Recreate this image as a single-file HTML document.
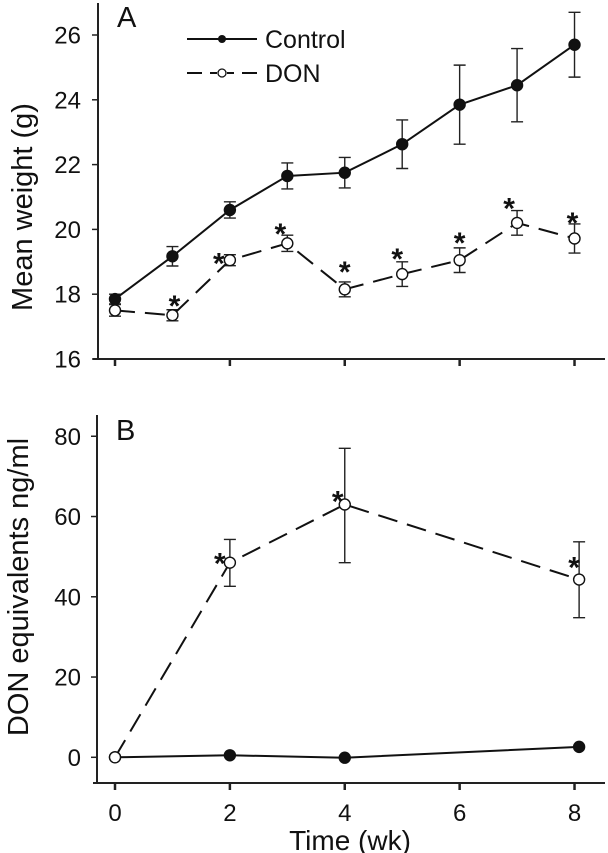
<!DOCTYPE html>
<html><head><meta charset="utf-8">
<style>
html,body{margin:0;padding:0;background:#fff;}
svg{display:block;font-family:"Liberation Sans",Arial,sans-serif;}
</style></head>
<body>
<svg id="chart" width="608" height="853" viewBox="0 0 608 853" xmlns="http://www.w3.org/2000/svg">
<g id="panelA"></g>
<g id="panelB"></g>
</svg>
<script>
// Panel A data
const weeksA = [0,1,2,3,4,5,6,7,8];
const controlWeight = [17.85,19.17,20.6,21.65,21.75,22.63,23.85,24.45,25.7];
const controlWeightErr = [0.15,0.3,0.25,0.4,0.47,0.75,1.22,1.13,1.0];
const donWeight = [17.5,17.35,19.05,19.57,18.15,18.62,19.05,20.2,19.72];
const donWeightErr = [0.18,0.17,0.17,0.25,0.23,0.38,0.38,0.38,0.45];
const sigA = [false,true,true,true,true,true,true,true,true];
const yTicksA = [16,18,20,22,24,26];
// Panel B data
const weeksBDon = [0,2,4,8.08];
const donPlasma = [0,48.5,63,44.3];
const donPlasmaErrLo = [0,5.9,14.5,9.5];
const donPlasmaErrHi = [0,5.8,14,9.4];
const sigB = [false,true,true,true];
const weeksBCtl = [0,2,4,8.08];
const controlPlasma = [0,0.5,-0.1,2.6];
const yTicksB = [0,20,40,60,80];
const xTicks = [0,2,4,6,8];

const NS='http://www.w3.org/2000/svg';
function mk(parent,tag,attrs,text){const e=document.createElementNS(NS,tag);for(const k in attrs)e.setAttribute(k,attrs[k]);if(text!==undefined)e.textContent=text;parent.appendChild(e);return e;}
const xS = w => 115 + w*57.44;
const yA = v => 359 - (v-16)*32.4;
const yB = v => 757.3 - v*4.013;

function axes(g, axX, yTop, yBot, yTicks, ys, xTickLabels){
  let e=mk(g,'line',{x1:axX,y1:yTop,x2:axX,y2:yBot,stroke:'#222','stroke-width':2});
  
  e=mk(g,'line',{x1:93,y1:yBot,x2:605,y2:yBot,stroke:'#222','stroke-width':2});
  
  yTicks.forEach(t=>{
    let l=mk(g,'line',{x1:axX-6,y1:ys(t),x2:axX,y2:ys(t),stroke:'#222','stroke-width':1.5});
    
    let tx=mk(g,'text',{x:81,y:ys(t)+8.5,'text-anchor':'end','font-size':24,fill:'#111'},String(t));
    
  });
  xTicks.forEach(t=>{
    let l=mk(g,'line',{x1:xS(t),y1:yBot,x2:xS(t),y2:yBot+7,stroke:'#222','stroke-width':2.5});
    
    if(xTickLabels){let tx=mk(g,'text',{x:xS(t),y:yBot+38,'text-anchor':'middle','font-size':24,fill:'#111'},String(t));
      }
  });
}
function errbar(g,x,y1,y2){
  let e=mk(g,'path',{d:`M${x},${y1}V${y2}M${x-6},${y1}H${x+6}M${x-6},${y2}H${x+6}`,stroke:'#222','stroke-width':1.4,fill:'none'});
  
}
function series(g,xs,ys,dash,name){
  const pts=xs.map((x,i)=>xS(x)+','+ys[i]).join(' ');
  const attrs={points:pts,fill:'none',stroke:'#111','stroke-width':2};
  if(dash)attrs['stroke-dasharray']='20,10';
  let e=mk(g,'polyline',attrs);
  
}
function markers(g,xs,ys,open,name){
  xs.forEach((x,i)=>{
    let c=mk(g,'circle',{cx:xS(x),cy:ys[i],r:5.5,fill:open?'#fff':'#111',stroke:'#111','stroke-width':1.4});
    
  });
}
function star(g,x,y){
  let s=mk(g,'text',{x:x,y:y+14,'text-anchor':'middle','font-size':30,'font-weight':'bold',fill:'#111'},'*');
  
}

// Panel A
const A=document.getElementById('panelA');
axes(A,98,3,359,yTicksA,yA,false);
weeksA.forEach((w,i)=>{errbar(A,xS(w),yA(controlWeight[i]+controlWeightErr[i]),yA(controlWeight[i]-controlWeightErr[i]));});
weeksA.forEach((w,i)=>{errbar(A,xS(w),yA(donWeight[i]+donWeightErr[i]),yA(donWeight[i]-donWeightErr[i]));});
series(A,weeksA,controlWeight.map(yA),false,'control-weight');
series(A,weeksA,donWeight.map(yA),true,'don-weight');
markers(A,weeksA,controlWeight.map(yA),false,'control-weight');
markers(A,weeksA,donWeight.map(yA),true,'don-weight');
const starDxA=[0,2,-11,-7,0,-5,0,-8,-2];
const starDyA=[0,-8,5,-5,-14,-7,-9,-6,-5];
weeksA.forEach((w,i)=>{if(sigA[i])star(A,xS(w)+starDxA[i],yA(donWeight[i]+donWeightErr[i])+starDyA[i]);});
let t=mk(A,'text',{x:117,y:27,'font-size':29,fill:'#111'},'A');

t=mk(A,'text',{x:0,y:0,'font-size':29,fill:'#111','text-anchor':'middle',transform:'translate(32,207) rotate(-90)'},'Mean weight (g)');

// legend
const L=mk(A,'g',{});
let le=mk(L,'line',{x1:187,y1:39,x2:257,y2:39,stroke:'#111','stroke-width':2});

le=mk(L,'circle',{cx:222,cy:39,r:4,fill:'#111'});

le=mk(L,'text',{x:265,y:48,'font-size':25,fill:'#111'},'Control');

le=mk(L,'path',{d:'M187,73H202M210,73H217M227,73H234M242,73H257',stroke:'#111','stroke-width':2});

le=mk(L,'circle',{cx:222,cy:73,r:4,fill:'#fff',stroke:'#111','stroke-width':1.3});

le=mk(L,'text',{x:265,y:82,'font-size':25,fill:'#111'},'DON');


// Panel B
const B=document.getElementById('panelB');
axes(B,97,415,783,yTicksB,yB,true);
weeksBDon.forEach((w,i)=>{if(donPlasmaErrHi[i]>0)errbar(B,xS(w),yB(donPlasma[i]+donPlasmaErrHi[i]),yB(donPlasma[i]-donPlasmaErrLo[i]));});
series(B,weeksBCtl,controlPlasma.map(yB),false,'control-plasma');
series(B,weeksBDon,donPlasma.map(yB),true,'don-plasma');
markers(B,weeksBCtl,controlPlasma.map(yB),false,'control-plasma');
markers(B,weeksBDon,donPlasma.map(yB),true,'don-plasma');
const starDxB=[0,-10,-7,-5];
const starDyB=[0,-3,-7,-16];
weeksBDon.forEach((w,i)=>{if(sigB[i])star(B,xS(w)+starDxB[i],yB(donPlasma[i])+starDyB[i]);});
t=mk(B,'text',{x:116,y:440,'font-size':29,fill:'#111'},'B');

t=mk(B,'text',{x:0,y:0,'font-size':29,fill:'#111','text-anchor':'middle',transform:'translate(28,587) rotate(-90)'},'DON equivalents ng/ml');

t=mk(B,'text',{x:350,y:850,'font-size':28,fill:'#111','text-anchor':'middle'},'Time (wk)');

</script>
</body></html>
